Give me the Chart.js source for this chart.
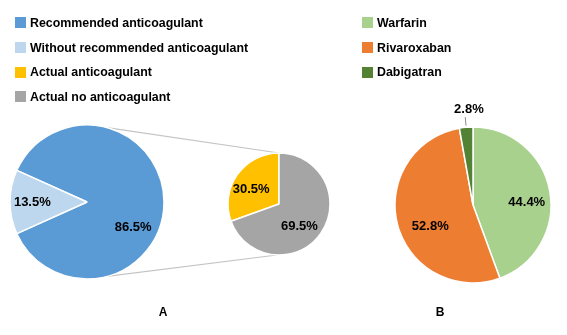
<!DOCTYPE html>
<html>
<head>
<meta charset="utf-8">
<script src="https://cdn.jsdelivr.net/npm/chart.js@4.4.0/dist/chart.umd.min.js"></script>
<style>
  body { margin: 0; background: #fff; width: 567px; height: 335px; position: relative; overflow: hidden;
         font-family: Arial, "Liberation Sans", sans-serif; }
  canvas { position: absolute; }
  .legend { position: absolute; font-weight: bold; font-size: 12.4px; color: #000; }
  .legend .item { height: 24.7px; display: flex; align-items: center; white-space: nowrap; }
  .legend .sw { width: 11px; height: 11px; margin-right: 4px; flex: none; }
  .panel { position: absolute; font-weight: bold; font-size: 12px; transform: translate(-50%, -50%); }
</style>
</head>
<body>
<canvas id="links" width="567" height="335" style="left:0px;top:0px"></canvas>
<canvas id="pieMain" width="174" height="180" style="left:0px;top:112px"></canvas>
<canvas id="pieSub" width="120" height="120" style="left:219px;top:144px"></canvas>
<canvas id="pieB" width="180" height="220" style="left:383px;top:95px"></canvas>
<div class="legend" id="legendA" style="left:15px;top:10.5px"></div>
<div class="legend" id="legendB" style="left:362px;top:10.5px"></div>
<div class="panel" style="left:163px;top:312px">A</div>
<div class="panel" style="left:440px;top:312px">B</div>

<script>
// 数据
const mainLabels = ['Recommended anticoagulant', 'Without recommended anticoagulant'];
const mainValues = [86.5, 13.5];
const subLabels = ['Actual anticoagulant', 'Actual no anticoagulant'];
const subValues = [30.5, 69.5];
const drugLabels = ['Warfarin', 'Rivaroxaban', 'Dabigatran'];
const drugValues = [44.4, 52.8, 2.8];

const mainColors = ['#5B9BD5', '#BDD7EE'];
const subColors = ['#FFC000', '#A5A5A5'];
const drugColors = ['#A9D18E', '#ED7D31', '#548235'];

const FONT = 'Arial, "Liberation Sans", sans-serif';

// 图例
function buildLegend(id, labels, colors) {
  const box = document.getElementById(id);
  labels.forEach(function (t, i) {
    const row = document.createElement('div');
    row.className = 'item';
    row.innerHTML = '<span class="sw" style="background:' + colors[i] + '"></span><span>' + t + '</span>';
    box.appendChild(row);
  });
}
buildLegend('legendA', mainLabels.concat(subLabels), mainColors.concat(subColors));
buildLegend('legendB', drugLabels, drugColors);

// 扇区百分比标签，place: [半径比例, 角度偏移(度), 引线]
const sliceLabels = {
  id: 'sliceLabels',
  afterDatasetsDraw(chart, args, opts) {
    const ctx = chart.ctx;
    const meta = chart.getDatasetMeta(0);
    const data = chart.data.datasets[0].data;
    ctx.save();
    ctx.font = 'bold 13px ' + FONT;
    ctx.fillStyle = '#000';
    ctx.textAlign = 'center';
    ctx.textBaseline = 'middle';
    meta.data.forEach(function (arc, i) {
      const p = opts.place[i];
      const mid = (arc.startAngle + arc.endAngle) / 2;
      const a = mid + p[1] * Math.PI / 180;
      const r = arc.outerRadius * p[0];
      if (p[2]) {
        ctx.strokeStyle = '#8C8C8C';
        ctx.lineWidth = 1;
        ctx.beginPath();
        ctx.moveTo(arc.x + Math.cos(mid) * arc.outerRadius * p[2][0], arc.y + Math.sin(mid) * arc.outerRadius * p[2][0]);
        ctx.lineTo(arc.x + Math.cos(mid) * arc.outerRadius * p[2][1], arc.y + Math.sin(mid) * arc.outerRadius * p[2][1]);
        ctx.stroke();
      }
      ctx.fillText(data[i].toFixed(1) + '%', arc.x + Math.cos(a) * r, arc.y + Math.sin(a) * r + 0.5);
    });
    ctx.restore();
  }
};

function pieOptions(radius, rotation, place) {
  return {
    responsive: false,
    animation: false,
    radius: radius,
    rotation: rotation,
    layout: { padding: 0 },
    plugins: {
      legend: { display: false },
      tooltip: { enabled: false },
      sliceLabels: { place: place }
    }
  };
}

function pieData(labels, values, colors) {
  return {
    labels: labels,
    datasets: [{
      data: values,
      backgroundColor: colors,
      borderColor: '#fff',
      borderWidth: 1.5,
      hoverOffset: 0
    }]
  };
}

const mainChart = new Chart(document.getElementById('pieMain'), {
  type: 'pie',
  data: pieData(mainLabels, mainValues, mainColors),
  options: pieOptions(77, -65.7, [[0.68, 28], [0.71, 0]]),
  plugins: [sliceLabels]
});

// 连接线（大饼图到小饼图）
const linkLines = {
  id: 'linkLines',
  afterDraw(chart) {
    const big = mainChart.getDatasetMeta(0).data[0];
    const small = chart.getDatasetMeta(0).data[0];
    const bigEl = document.getElementById('pieMain');
    const smallEl = document.getElementById('pieSub');
    const bx = bigEl.offsetLeft + big.x, by = bigEl.offsetTop + big.y, br = big.outerRadius;
    const sx = smallEl.offsetLeft + small.x, sy = smallEl.offsetTop + small.y, sr = small.outerRadius;
    const t = 15 * Math.PI / 180;
    const ctx = document.getElementById('links').getContext('2d');
    ctx.clearRect(0, 0, 567, 335);
    ctx.strokeStyle = '#C4C4C4';
    ctx.lineWidth = 1.2;
    ctx.beginPath();
    ctx.moveTo(bx + Math.sin(t) * br, by - Math.cos(t) * br);
    ctx.lineTo(sx, sy - sr);
    ctx.moveTo(bx + Math.sin(t) * br, by + Math.cos(t) * br);
    ctx.lineTo(sx - 2, sy + sr);
    ctx.stroke();
  }
};

new Chart(document.getElementById('pieSub'), {
  type: 'pie',
  data: pieData(subLabels, subValues, subColors),
  options: pieOptions(51, -109.8, [[0.62, -7], [0.59, 12]]),
  plugins: [sliceLabels, linkLines]
});

new Chart(document.getElementById('pieB'), {
  type: 'pie',
  data: pieData(drugLabels, drugValues, drugColors),
  options: pieOptions(78, 0, [[0.69, 7], [0.61, -11], [1.23, 2.6, [1.02, 1.13]]]),
  plugins: [sliceLabels]
});
</script>
</body>
</html>
